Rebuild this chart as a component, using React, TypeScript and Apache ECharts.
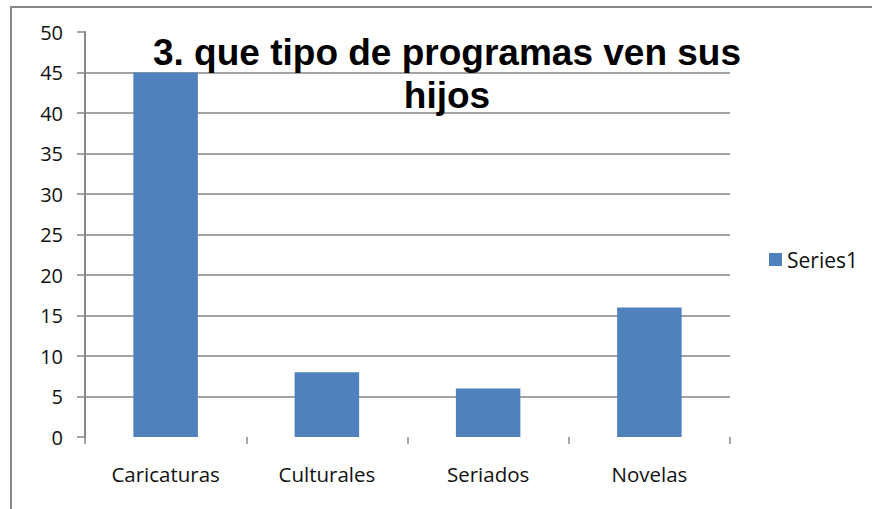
import React, { useEffect, useRef } from "react";
import * as echarts from "echarts";

const categories = ["Caricaturas", "Culturales", "Seriados", "Novelas"];
const seriesName = "Series1";
const values = [45, 8, 6, 16];
const titleLines = ["3. que tipo de programas ven sus", "hijos"];
const yMin = 0;
const yMax = 50;
const yInterval = 5;

export default function App() {
  const ref = useRef<HTMLDivElement>(null);
  useEffect(() => {
    if (!ref.current) return;
    const chart = echarts.init(ref.current, null, { renderer: "svg" });
    const font = "'Open Sans', 'Noto Sans', sans-serif";
    const titleStyle = {
      fontFamily: "'Liberation Sans', Arial, sans-serif",
      fontWeight: "bold",
      fontSize: 37,
      lineHeight: 42,
      color: "#000000",
    };
    chart.setOption({
      animation: false,
      backgroundColor: "#ffffff",
      title: [
        {
          text: titleLines[0],
          left: 447,
          top: 31,
          padding: 0,
          textAlign: "center",
          textStyle: titleStyle,
        },
        {
          text: titleLines[1],
          left: 447,
          top: 74,
          padding: 0,
          textAlign: "center",
          textStyle: titleStyle,
        },
      ],
      legend: {
        data: [seriesName],
        left: 769,
        top: 249,
        padding: 0,
        itemWidth: 13,
        itemHeight: 13,
        icon: "rect",
        textStyle: { fontFamily: font, fontSize: 21, color: "#111111" },
      },
      grid: { left: 85, right: 142, top: 32, bottom: 72, containLabel: false },
      xAxis: {
        type: "category",
        data: categories,
        axisLine: { show: false },
        axisTick: { show: true, length: 7, lineStyle: { color: "#888888", width: 1.5 } },
        axisLabel: { fontFamily: font, fontSize: 20.5, color: "#111111", margin: 26 },
        splitLine: { show: false },
      },
      yAxis: {
        type: "value",
        min: yMin,
        max: yMax,
        interval: yInterval,
        axisLine: { show: true, lineStyle: { color: "#888888", width: 2 } },
        axisTick: { show: true, length: 8, lineStyle: { color: "#888888", width: 1.5 } },
        axisLabel: { fontFamily: font, fontSize: 20, color: "#111111", margin: 22 },
        splitLine: {
          show: true,
          showMinLine: false,
          showMaxLine: false,
          lineStyle: { color: "#858585", width: 1.5 },
        },
      },
      series: [
        {
          name: seriesName,
          type: "bar",
          data: values,
          barWidth: "40%",
          itemStyle: { color: "#4F81BD" },
        },
      ],
      graphic: [
        {
          type: "line",
          shape: { x1: 11, y1: 7, x2: 872, y2: 7 },
          style: { stroke: "#888888", lineWidth: 2 },
          silent: true,
        },
        {
          type: "line",
          shape: { x1: 11, y1: 6, x2: 11, y2: 509 },
          style: { stroke: "#888888", lineWidth: 2 },
          silent: true,
        },
      ],
    });
    return () => chart.dispose();
  }, []);
  return (
    <div
      ref={ref}
      style={{ position: "fixed", left: 0, top: 0, width: 872, height: 509 }}
    />
  );
}
